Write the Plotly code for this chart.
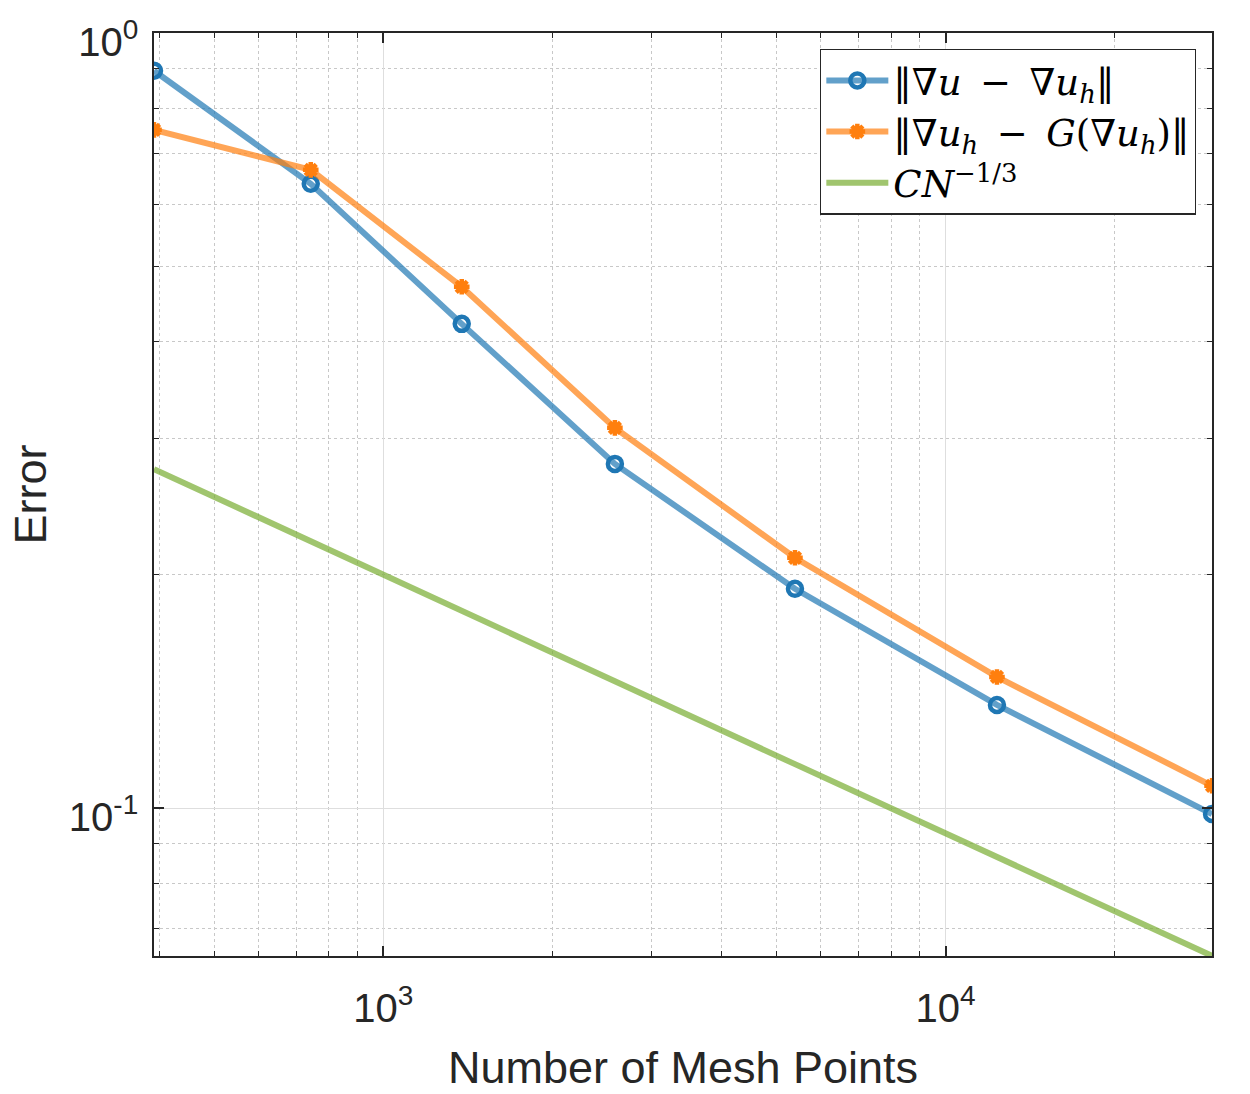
import plotly.graph_objects as go

# Data
mesh_points = [391, 743, 1379, 2582, 5398, 12346, 29790]
err_grad = [0.894, 0.639, 0.4215, 0.2781, 0.1919, 0.1359, 0.0983]
err_recovery = [0.750, 0.666, 0.4706, 0.3095, 0.2104, 0.1477, 0.1069]
ref_slope = [0.2738, 0.2213, 0.1797, 0.1458, 0.1140, 0.0866, 0.0645]

x_tickvals = [1e3, 1e4]
x_ticktext = ["10<sup>3</sup>", "10<sup>4</sup>"]
y_tickvals = [0.1, 1.0]
y_ticktext = ["10<sup>-1</sup>", "10<sup>0</sup>"]
x_minor = [400, 500, 600, 700, 800, 900, 2000, 3000, 4000, 5000, 6000, 7000, 8000, 9000, 20000]
y_minor = [0.07, 0.08, 0.09, 0.2, 0.3, 0.4, 0.5, 0.6, 0.7, 0.8, 0.9]

SP = "\u2002"
names = [
    "‖∇<i>u</i>" + SP + "−" + SP + "∇<i>u</i><sub><i>h</i></sub>‖",
    "‖∇<i>u</i><sub><i>h</i></sub>" + SP + "−" + SP + "<i>G</i>(∇<i>u</i><sub><i>h</i></sub>)‖",
    "<i>CN</i><sup>−1/3</sup>",
]

fig = go.Figure()
fig.add_trace(go.Scatter(
    x=mesh_points, y=err_grad, mode="lines+markers", name=names[0],
    line=dict(color="rgba(31,119,180,0.7)", width=6),
    marker=dict(symbol="circle-open", size=14, color="#1f77b4",
                line=dict(color="#1f77b4", width=4.5)),
))
fig.add_trace(go.Scatter(
    x=mesh_points, y=err_recovery, mode="lines+markers", name=names[1],
    line=dict(color="rgba(255,127,14,0.7)", width=6),
    marker=dict(symbol="asterisk-open", size=13, color="#ff7f0e",
                line=dict(color="#ff7f0e", width=4.5)),
))
fig.add_trace(go.Scatter(
    x=mesh_points, y=ref_slope, mode="lines", name=names[2],
    line=dict(color="rgba(119,172,48,0.7)", width=6),
))

axis_common = dict(
    type="log", automargin=False,
    showline=True, linecolor="#262626", linewidth=1.5, mirror="allticks",
    ticks="inside", ticklen=10, tickwidth=1.5, tickcolor="#262626",
    showgrid=True, gridcolor="#dedede", gridwidth=1,
    zeroline=False,
    tickfont=dict(family="Liberation Sans, Arial, sans-serif", size=40, color="#262626"),
    title_font=dict(family="Liberation Sans, Arial, sans-serif", size=45, color="#262626"),
)

fig.update_xaxes(
    **axis_common,
    range=[2.5922, 4.474],
    tickvals=x_tickvals, ticktext=x_ticktext, ticklabelstandoff=16,
    minor=dict(tickvals=x_minor, ticks="inside", ticklen=5, tickwidth=1.2,
               tickcolor="#262626", showgrid=True, gridcolor="#c8c8c8",
               griddash="dot", gridwidth=1),
    title=dict(text="Number of Mesh Points", standoff=23),
)
fig.update_yaxes(
    **axis_common,
    range=[-1.1906, 0],
    tickvals=y_tickvals, ticktext=y_ticktext, ticklabelstandoff=6, ticklabelshift=9,
    minor=dict(tickvals=y_minor, ticks="inside", ticklen=5, tickwidth=1.2,
               tickcolor="#262626", showgrid=True, gridcolor="#c8c8c8",
               griddash="dot", gridwidth=1),
    title=dict(text="Error", standoff=8),
)

fig.update_layout(
    width=1250, height=1094,
    margin=dict(l=154, r=38, t=33, b=138),
    plot_bgcolor="white", paper_bgcolor="white",
    showlegend=True,
    legend=dict(
        x=0.985, y=0.983, xanchor="right", yanchor="top",
        bgcolor="white", bordercolor="#262626", borderwidth=1.2,
        font=dict(family="DejaVu Serif, serif", size=37, color="black"),
        itemwidth=62, tracegroupgap=0,
    ),
)

fig.write_html("out.html")
